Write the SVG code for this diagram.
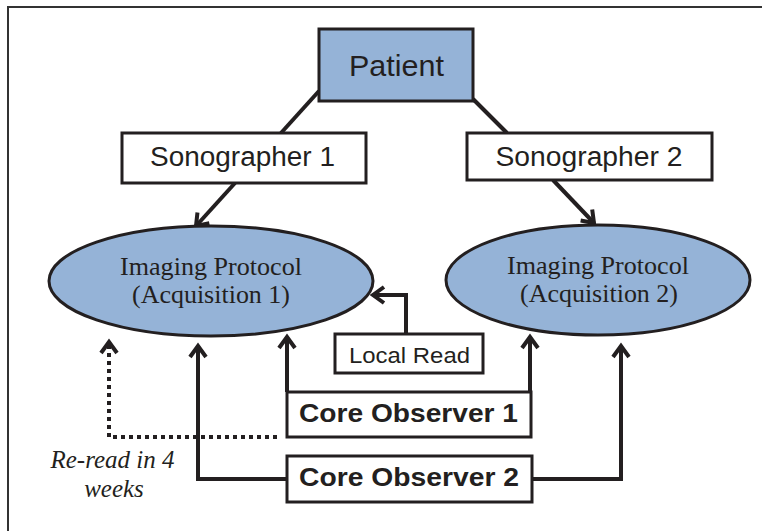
<svg xmlns="http://www.w3.org/2000/svg" width="762" height="531" viewBox="0 0 762 531">
  <style>
    .box { fill: #ffffff; stroke: #231f20; stroke-width: 3; }
    .blue { fill: #95b3d7; stroke: #231f20; stroke-width: 3; }
    .sans { font-family: "Liberation Sans", Arial, sans-serif; fill: #231f20; text-anchor: middle; }
    .serif { font-family: "Liberation Serif", "Times New Roman", serif; fill: #231f20; text-anchor: middle; }
    .bold { font-weight: bold; }
    .conn { fill: none; stroke: #231f20; stroke-width: 4; stroke-linejoin: miter; }
    .dot { fill: none; stroke: #231f20; stroke-width: 4; stroke-dasharray: 4 4; }
  </style>
  <defs>
    <marker id="arr" markerUnits="userSpaceOnUse" viewBox="-16 -12 20 24" refX="0" refY="0" markerWidth="20" markerHeight="24" orient="auto" overflow="visible">
      <path d="M-11,-8 L0,0 L-11,8" fill="none" stroke="#231f20" stroke-width="4" stroke-linejoin="miter" stroke-miterlimit="10"/>
    </marker>
  </defs>

  <rect width="762" height="531" fill="#ffffff"/>
  <path d="M8 531 V7 H762" fill="none" stroke="#333333" stroke-width="2"/>

  <g id="connectors">
    <path class="conn" d="M319 91 L281 133"/>
    <path class="conn" d="M473 99 L507 133"/>
    <path class="conn" d="M235 183 L196 226" marker-end="url(#arr)"/>
    <path class="conn" d="M553 180 L594 223" marker-end="url(#arr)"/>
    <path class="conn" d="M406 334 V295 H373" marker-end="url(#arr)"/>
    <path class="conn" d="M287 392 V337" marker-end="url(#arr)"/>
    <path class="conn" d="M530 392 V337" marker-end="url(#arr)"/>
    <path class="conn" d="M287 479 H198 V346" marker-end="url(#arr)"/>
    <path class="conn" d="M531 479 H621 V346" marker-end="url(#arr)"/>
    <path class="dot" d="M277 437 H109 V347"/>
    <path d="M109 348 V342" stroke="#231f20" stroke-width="4" marker-end="url(#arr)"/>
  </g>

  <g id="patient">
    <rect class="blue" x="319" y="29" width="154" height="72"/>
    <text class="sans" x="396.5" y="76" font-size="29" textLength="95" lengthAdjust="spacingAndGlyphs">Patient</text>
  </g>

  <g id="sonographer1">
    <rect class="box" x="122" y="133" width="244" height="50"/>
    <text class="sans" x="242.5" y="166" font-size="27" textLength="185" lengthAdjust="spacingAndGlyphs">Sonographer 1</text>
  </g>

  <g id="sonographer2">
    <rect class="box" x="467" y="133" width="245" height="47"/>
    <text class="sans" x="589" y="166" font-size="27" textLength="187" lengthAdjust="spacingAndGlyphs">Sonographer 2</text>
  </g>

  <g id="acquisition1">
    <ellipse class="blue" cx="211" cy="281" rx="162" ry="55"/>
    <text class="serif" x="211" y="275" font-size="25" textLength="182" lengthAdjust="spacingAndGlyphs">Imaging Protocol</text>
    <text class="serif" x="211" y="303" font-size="25" textLength="158" lengthAdjust="spacingAndGlyphs">(Acquisition 1)</text>
  </g>

  <g id="acquisition2">
    <ellipse class="blue" cx="598" cy="280" rx="152" ry="55"/>
    <text class="serif" x="598" y="274" font-size="25" textLength="182" lengthAdjust="spacingAndGlyphs">Imaging Protocol</text>
    <text class="serif" x="599" y="302" font-size="25" textLength="158" lengthAdjust="spacingAndGlyphs">(Acquisition 2)</text>
  </g>

  <g id="localread">
    <rect class="box" x="335" y="334" width="148" height="39"/>
    <text class="sans" x="409.5" y="363" font-size="22" textLength="121" lengthAdjust="spacingAndGlyphs">Local Read</text>
  </g>

  <g id="coreobserver1">
    <rect class="box" x="287" y="392" width="244" height="45"/>
    <text class="sans bold" x="408.5" y="422" font-size="26" textLength="219" lengthAdjust="spacingAndGlyphs">Core Observer 1</text>
  </g>

  <g id="coreobserver2">
    <rect class="box" x="287" y="456" width="245" height="46"/>
    <text class="sans bold" x="409" y="486" font-size="26" textLength="220" lengthAdjust="spacingAndGlyphs">Core Observer 2</text>
  </g>

  <g id="reread-label">
    <text class="serif" x="112.5" y="468" font-size="25" font-style="italic">Re-read in 4</text>
    <text class="serif" x="114" y="497" font-size="25" font-style="italic">weeks</text>
  </g>
</svg>
